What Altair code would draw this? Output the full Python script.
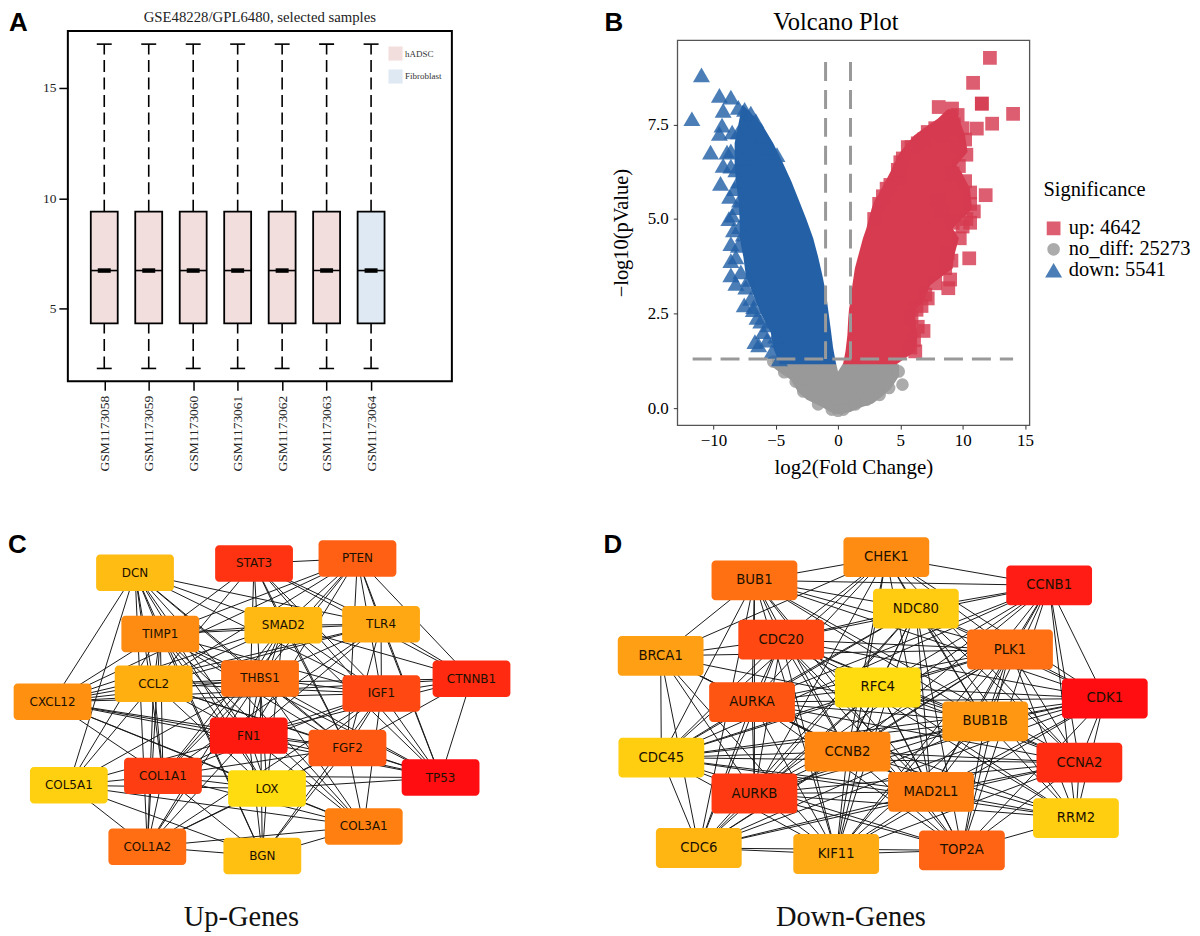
import altair as alt
import pandas as pd
from itertools import combinations

SERIF = "Liberation Serif"
# ---------- Panel A: boxplots
samples = ["GSM1173058", "GSM1173059", "GSM1173060", "GSM1173061", "GSM1173062", "GSM1173063", "GSM1173064"]
groups = ["hADSC"] * 6 + ["Fibroblast"]
box_min = [2.28] * 7
box_q1 = [4.32] * 7
box_med = [6.72] * 7
box_q3 = [9.39] * 7
box_max = [16.99] * 7

# ---------- Panel B: volcano
down_y = [1.16, 1.6, 2.0, 2.5, 3.0, 3.5, 4.0, 4.5, 5.0, 5.5, 6.0, 6.5, 7.0, 7.5, 8.0]
down_left = [-4.7, -5.2, -5.4, -6.2, -6.8, -7.4, -7.6, -7.9, -7.9, -8.0, -8.2, -8.3, -8.3, -8.0, -7.7]
down_right = [-0.15, -0.4, -0.55, -0.75, -0.95, -1.25, -1.6, -2.0, -2.55, -3.15, -3.75, -4.45, -5.2, -6.1, -7.6]
up_y = [1.16, 1.5, 1.93, 2.37, 2.64, 2.81, 3.25, 3.69, 4.0, 4.49, 4.75, 5.28, 5.45, 5.8, 6.24, 6.42, 6.77, 7.21, 7.39, 7.65, 7.9]
up_left = [0.4, 0.6, 0.75, 0.82, 0.89, 1.0, 1.15, 1.35, 1.6, 2.0, 2.27, 2.7, 2.88, 3.49, 4.2, 4.45, 5.0, 6.1, 6.86, 8.0, 8.8]
up_right = [4.7, 6.2, 6.4, 6.2, 6.3, 6.86, 7.4, 9.2, 9.3, 9.7, 9.2, 10.8, 10.7, 10.6, 9.9, 9.5, 10.4, 10.2, 10.0, 9.7, 9.5]
grey_x = [-5.3, -4.7, -3.8, -3.2, -2.5, -1.4, -0.6, -0.15, 0.0, 0.4, 1.0, 1.7, 2.8, 3.5, 4.2, 4.9]
grey_low = [1.1, 0.95, 0.75, 0.42, 0.22, 0.05, -0.1, -0.15, -0.16, -0.14, -0.1, 0.0, 0.12, 0.3, 0.5, 0.85]
grey_high = [1.3, 1.25, 1.2, 1.2, 1.2, 1.2, 1.2, 1.18, 0.97, 1.18, 1.2, 1.2, 1.2, 1.2, 1.2, 1.15]

down_pts_x = [-10.96, -9.52, -8.60, -9.22, -11.73, -9.31, -9.52, -10.23, -8.91, -9.22, -9.43, -8.76, -8.39, -8.60, -8.60, -7.53, -6.77, -6.0, -6.67, -6.37,
              -8.0, -7.5, -7.0, -8.5, -8.0, -6.6, -8.6, -8.2, -8.6, -8.0, -7.9, -8.1, -7.9, -8.0, -8.2, -7.8, -7.4, -7.0, -6.5, -5.6, -5.7, -5.3, -4.7, -6.0, -4.9,
              -6.1, -5.5, -7.7, -8.3, -8.7, -8.5, -8.6, -8.2, -7.6, -7.2, -6.8, -6.2, -5.0]
down_pts_y = [8.81, 8.27, 8.22, 7.87, 7.65, 7.48, 7.26, 6.77, 6.77, 6.42, 5.94, 5.01, 4.71, 4.35, 3.52, 2.73, 2.68, 2.02, 1.76, 1.67,
              7.95, 7.9, 7.8, 7.3, 7.3, 7.6, 6.8, 6.3, 6.4, 6.0, 5.5, 5.3, 4.8, 4.3, 4.0, 3.6, 3.2, 2.9, 2.4, 2.2, 1.8, 1.5, 1.3, 7.1, 6.7,
              7.2, 6.9, 6.6, 5.8, 5.6, 5.1, 3.9, 3.3, 4.6, 3.4, 2.6, 2.3, 1.9]
up_pts_x = [12.19, 10.84, 11.54, 11.54, 8.08, 14.05, 12.37, 11.14, 9.15, 11.85, 10.53, 9.77, 6.86, 8.85, 6.4, 10.3, 10.2, 10.0, 9.6, 10.2, 10.6, 10.9, 10.6, 10.0, 8.0,
            9.0, 8.6, 8.3, 9.0, 8.4, 7.2, 6.4, 5.6, 5.0, 4.9, 4.2, 3.6, 6.2, 6.1, 7.0, 6.7, 9.6, 9.3, 5.9,
            8.9, 8.4, 7.8, 6.9, 5.9, 5.2, 4.8, 3.9, 3.3, 2.9, 9.7, 9.2, 10.6, 10.3, 9.2, 8.8, 9.1, 7.8, 7.2, 6.3, 5.8]
up_pts_y = [9.26, 8.6, 8.05, 8.05, 7.96, 7.78, 7.52, 7.39, 7.92, 5.63, 3.96, 4.49, 2.04, 3.17, 2.15, 6.7, 7.1, 7.4, 6.9, 6.0, 5.7, 5.2, 4.9, 4.8, 5.5,
            3.4, 3.7, 5.2, 7.6, 7.3, 7.3, 7.0, 6.9, 6.5, 6.1, 5.9, 5.6, 1.5, 1.8, 3.0, 2.7, 7.75, 7.5, 2.4,
            7.4, 7.2, 7.4, 7.1, 6.9, 6.6, 6.3, 5.8, 5.4, 5.0, 6.4, 6.2, 5.4, 5.0, 4.9, 4.1, 3.9, 3.3, 2.9, 2.6, 1.6]
grey_pts_x = [5.17, 4.87, -4.32, -3.4, -2.79, 4.1, 3.34, 2.27, -5.2, -0.5, 0.43, 0.0, -1.6, 1.4]
grey_pts_y = [0.62, 0.97, 0.95, 0.7, 0.44, 0.53, 0.35, 0.22, 1.23, -0.04, -0.04, -0.07, 0.1, 0.1]
sig_labels = ["up: 4642", "no_diff: 25273", "down: 5541"]
cut_x = [-1, 1]
cut_top = 9.15
cut_y = 1.3
cut_span = [-11.67, 14.05]

# ---------- Panels C / D: networks (layout units)
up_genes = ["DCN", "STAT3", "PTEN", "TIMP1", "SMAD2", "TLR4", "THBS1", "CCL2", "CXCL12", "IGF1", "CTNNB1", "FN1", "FGF2", "TP53", "COL1A1", "LOX", "COL5A1", "COL3A1", "COL1A2", "BGN"]
up_lx = [406, 764, 1075, 482, 852, 1146, 782, 462, 158, 1147, 1418, 748, 1045, 1325, 490, 803, 207, 1094, 443, 789]
up_ly = [141, 113, 98, 325, 299, 296, 459, 475, 529, 504, 460, 631, 668, 757, 752, 790, 780, 904, 965, 993]
up_col = ["#FFBC12", "#FF3312", "#FF6014", "#FF8C12", "#FFB912", "#FFA814", "#FF7012", "#FFAF10", "#FF9010", "#FF4812", "#FF2A10", "#FF1A10", "#FF5812", "#FF0D10", "#FF3D12", "#FFDC10", "#FFD010", "#FF8010", "#FF6E12", "#FFC012"]
up_links = {
    "DCN": "TIMP1 SMAD2 TLR4 THBS1 CCL2 CXCL12 IGF1 FN1 FGF2 COL1A1 LOX COL5A1 COL3A1 COL1A2 BGN",
    "STAT3": "PTEN TIMP1 SMAD2 TLR4 THBS1 CCL2 IGF1 CTNNB1 FN1 FGF2 TP53",
    "PTEN": "TIMP1 SMAD2 TLR4 THBS1 CCL2 CXCL12 IGF1 CTNNB1 FN1 FGF2 TP53 COL1A1",
    "TIMP1": "SMAD2 TLR4 THBS1 CCL2 CXCL12 IGF1 FN1 FGF2 TP53 COL1A1 LOX COL5A1 COL3A1 COL1A2 BGN",
    "SMAD2": "TLR4 THBS1 CCL2 CXCL12 IGF1 CTNNB1 FN1 FGF2 TP53 COL1A1 LOX COL1A2",
    "TLR4": "THBS1 CCL2 CXCL12 IGF1 CTNNB1 FN1 FGF2 TP53 COL1A1",
    "THBS1": "CCL2 CXCL12 IGF1 FN1 FGF2 TP53 COL1A1 LOX COL5A1 COL3A1 COL1A2 BGN",
    "CCL2": "CXCL12 IGF1 CTNNB1 FN1 FGF2 TP53 COL1A1 LOX COL5A1 COL1A2",
    "CXCL12": "IGF1 CTNNB1 FN1 FGF2 TP53 COL1A1 LOX COL3A1",
    "IGF1": "CTNNB1 FN1 FGF2 TP53 COL1A1 LOX COL3A1 COL1A2 BGN",
    "CTNNB1": "FN1 FGF2 TP53",
    "FN1": "FGF2 TP53 COL1A1 LOX COL5A1 COL3A1 COL1A2 BGN",
    "FGF2": "TP53 COL1A1 LOX COL1A2 COL3A1 BGN",
    "TP53": "COL1A1 LOX",
    "COL1A1": "LOX COL5A1 COL3A1 COL1A2 BGN",
    "LOX": "COL5A1 COL3A1 COL1A2 BGN",
    "COL5A1": "COL3A1 COL1A2 BGN",
    "COL3A1": "COL1A2 BGN",
    "COL1A2": "BGN",
}
down_genes = ["CHEK1", "BUB1", "CCNB1", "NDC80", "CDC20", "PLK1", "BRCA1", "RFC4", "AURKA", "CDK1", "BUB1B", "CDC45", "CCNB2", "CCNA2", "AURKB", "MAD2L1", "RRM2", "CDC6", "KIF11", "TOP2A"]
down_lx = [838, 454, 1312, 924, 532, 1198, 181, 813, 447, 1474, 1126, 183, 725, 1400, 454, 968, 1390, 292, 692, 1058]
down_ly = [94, 164, 179, 249, 342, 372, 391, 486, 530, 519, 588, 697, 679, 712, 805, 800, 879, 969, 987, 976]
down_col = ["#FF8C12", "#FF7012", "#FF1C14", "#FFCC12", "#FF4812", "#FF7014", "#FFA014", "#FFDC10", "#FF5512", "#FF0D10", "#FF9712", "#FFCE10", "#FF8610", "#FF2C12", "#FF3A12", "#FF7C12", "#FFCE10", "#FFB612", "#FFAC14", "#FF6414"]
down_absent = ["CHEK1 CDC6", "CHEK1 RRM2", "CHEK1 TOP2A", "BRCA1 CDK1", "BRCA1 CCNA2", "BRCA1 RRM2", "BRCA1 TOP2A", "RFC4 BRCA1", "CDC6 RRM2",
               "BUB1 RRM2", "BRCA1 CCNB1", "RRM2 KIF11", "CDC6 CCNB1", "NDC80 BRCA1", "RFC4 CHEK1", "BUB1 RFC4"]


def note(text, x, y, font, size, weight="normal", align="left", color="black"):
    return alt.Chart(pd.DataFrame({"t": [text]})).mark_text(
        font=font, fontSize=size, fontWeight=weight, align=align, color=color, baseline="alphabetic").encode(
        text="t:N", x=alt.value(x), y=alt.value(y))


def box_panel():
    df = pd.DataFrame({"sample": samples, "group": groups, "lo": box_min, "q1": box_q1,
                       "med": box_med, "q3": box_q3, "hi": box_max})
    x = alt.X("sample:N", title=None,
              scale=alt.Scale(type="point", domain=samples, range=[36.5, 304], padding=0),
              axis=alt.Axis(labelAngle=270, labelFont=SERIF, labelFontSize=13.5, labelColor="#222",
                            tickSize=9, tickWidth=1.5, tickColor="black", domain=False, grid=False, labelPadding=5))
    y = alt.Y("q1:Q", title=None, scale=alt.Scale(domain=[1.7, 17.58], nice=False, zero=False),
              axis=alt.Axis(values=[5, 10, 15], labelFont=SERIF, labelFontSize=13.5, labelColor="#222",
                            tickSize=9, tickWidth=1.5, tickColor="black", domain=False, grid=False, labelPadding=3))
    base = alt.Chart(df)
    whisk_dash = [12, 5.5]
    w1 = base.mark_rule(color="black", strokeWidth=1.6, strokeDash=whisk_dash).encode(x=x, y=alt.Y("q3:Q"), y2="hi:Q")
    w2 = base.mark_rule(color="black", strokeWidth=1.6, strokeDash=whisk_dash).encode(x=x, y=alt.Y("lo:Q"), y2="q1:Q")
    c1 = base.mark_tick(orient="horizontal", size=15, thickness=1.6, color="black", opacity=1).encode(x=x, y="hi:Q")
    c2 = base.mark_tick(orient="horizontal", size=15, thickness=1.6, color="black", opacity=1).encode(x=x, y="lo:Q")
    bars = base.mark_bar(size=27, stroke="black", strokeWidth=1.8, opacity=1).encode(
        x=x, y=y, y2="q3:Q",
        fill=alt.Fill("group:N", scale=alt.Scale(domain=["hADSC", "Fibroblast"], range=["#F3DEDE", "#DFE9F3"]),
                      legend=alt.Legend(orient="none", legendX=321, legendY=15, title=None, symbolType="square",
                                        symbolSize=200, symbolStrokeWidth=0, symbolStrokeColor="white",
                                        labelFont=SERIF, labelFontSize=9, labelColor="#333",
                                        rowPadding=8, labelOffset=2)))
    m1 = base.mark_tick(orient="horizontal", size=27, thickness=1.6, color="black", opacity=1).encode(x=x, y="med:Q")
    m2 = base.mark_tick(orient="horizontal", size=13, thickness=4.5, color="black", opacity=1).encode(x=x, y="med:Q")
    letter = note("A", -59, 0, "Liberation Sans", 26, "bold")
    title = note("GSE48228/GPL6480, selected samples", 192.5, -9, SERIF, 14.8, align="center", color="#222")
    return alt.layer(w1, w2, c1, c2, bars, m1, m2, letter, title).properties(
        width=385, height=351, view=alt.ViewBackground(stroke="black", strokeWidth=2))


def volcano_head():
    letter = note("B", -73, 0, "Liberation Sans", 26, "bold")
    title = note("Volcano Plot", 159, -1, SERIF, 24.5, align="center")
    return alt.layer(letter, title).properties(width=353, height=8)


def volcano_panel():
    xs = alt.Scale(domain=[-12.9, 15.36], nice=False, zero=False)
    ys = alt.Scale(domain=[-0.45, 9.73], nice=False, zero=False)
    xax = alt.X("x:Q", scale=xs, title="log2(Fold Change)",
                axis=alt.Axis(values=[-10, -5, 0, 5, 10, 15], grid=False, domain=False, tickSize=4, tickColor="#333",
                              labelFont=SERIF, labelFontSize=17, labelColor="black", titleFont=SERIF, titleFontSize=21,
                              titleFontWeight="normal", titlePadding=9, labelPadding=3))
    yax = alt.Y("y:Q", scale=ys, title="\u2212log10(pValue)",
                axis=alt.Axis(values=[0, 2.5, 5, 7.5], format=".1f", grid=False, domain=False, tickSize=4, tickColor="#333",
                              labelFont=SERIF, labelFontSize=17, labelColor="black", titleFont=SERIF, titleFontSize=20.5,
                              titleFontWeight="normal", titlePadding=16, labelPadding=5))
    BLUE, RED, GREY = "#2360A6", "#D63B50", "#999999"
    grey_a = alt.Chart(pd.DataFrame({"x": grey_x, "y": grey_low, "y2": grey_high})).mark_area(color=GREY, orient="vertical").encode(x=xax, y=yax, y2="y2:Q")
    blue_a = alt.Chart(pd.DataFrame({"y": down_y, "x": down_left, "x2": down_right})).mark_area(color=BLUE, orient="horizontal").encode(x=xax, x2="x2:Q", y=yax)
    red_a = alt.Chart(pd.DataFrame({"y": up_y, "x": up_left, "x2": up_right})).mark_area(color=RED, orient="horizontal").encode(x=xax, x2="x2:Q", y=yax)
    pts = pd.concat([
        pd.DataFrame({"x": grey_pts_x, "y": grey_pts_y, "sig": sig_labels[1]}),
        pd.DataFrame({"x": down_pts_x, "y": down_pts_y, "sig": sig_labels[2]}),
        pd.DataFrame({"x": up_pts_x, "y": up_pts_y, "sig": sig_labels[0]}),
    ], ignore_index=True)
    leg = alt.Legend(orient="none", legendX=367, legendY=140, title="Significance", titleFont=SERIF, titleFontSize=20.5,
                     titleFontWeight="normal", titleColor="black", titlePadding=18, labelFont=SERIF, labelFontSize=20.5,
                     labelColor="black", rowPadding=0, labelOffset=5)
    p = alt.Chart(pts).mark_point(filled=True, opacity=0.82, strokeWidth=0).encode(
        x=xax, y=yax,
        color=alt.Color("sig:N", scale=alt.Scale(domain=sig_labels, range=[RED, GREY, BLUE]), legend=leg),
        shape=alt.Shape("sig:N", scale=alt.Scale(domain=sig_labels, range=["square", "circle", "triangle-up"]), legend=leg),
        size=alt.Size("sig:N", scale=alt.Scale(type="ordinal", domain=sig_labels, range=[190, 160, 290]), legend=leg),
    )
    dash = [19, 9]
    vline = alt.Chart(pd.DataFrame({"x": cut_x, "top": [cut_top] * 2, "bot": [cut_y] * 2})).mark_rule(color="#999999", strokeWidth=3, strokeDash=dash).encode(
        x=alt.X("x:Q", scale=xs), y=alt.Y("top:Q", scale=ys), y2="bot:Q")
    hline = alt.Chart(pd.DataFrame({"a": [cut_span[0]], "b": [cut_span[1]], "y": [cut_y]})).mark_rule(color="#999999", strokeWidth=3, strokeDash=dash).encode(
        x=alt.X("a:Q", scale=xs), x2="b:Q", y=alt.Y("y:Q", scale=ys))
    return alt.layer(grey_a, blue_a, red_a, p, vline, hline).properties(
        width=353, height=386, view=alt.ViewBackground(stroke="#555555", strokeWidth=1.3))


def network_panel(genes, lx, ly, cols, edges, letter_text, letter_x, title_text, title_x, xdom, width, bw, bh, fs):
    pos = {g: (a, b) for g, a, b in zip(genes, lx, ly)}
    e = pd.DataFrame([{"x": pos[a][0], "y": pos[a][1], "x2": pos[b][0], "y2": pos[b][1]} for a, b in edges])
    n = pd.DataFrame({"gene": genes, "x": lx, "y": ly})
    xs = alt.Scale(domain=xdom, nice=False, zero=False)
    ys = alt.Scale(domain=[0, 1233], nice=False, zero=False, reverse=True)
    X = alt.X("x:Q", scale=xs, axis=None)
    Y = alt.Y("y:Q", scale=ys, axis=None)
    lines = alt.Chart(e).mark_rule(color="#1a1a1a", strokeWidth=1).encode(x=X, y=Y, x2="x2:Q", y2="y2:Q")
    boxes = alt.Chart(n).mark_rect(width=bw, height=bh, cornerRadius=4).encode(
        x=X, y=Y, fill=alt.Fill("gene:N", scale=alt.Scale(domain=genes, range=cols), legend=None))
    labels = alt.Chart(n).mark_text(font="DejaVu Sans", fontSize=fs, color="#1c1000").encode(x=X, y=Y, text="gene:N")
    letter = note(letter_text, letter_x, 27, "Liberation Sans", 26, "bold")
    title = note(title_text, title_x, 401, SERIF, 28.5, align="center", color="#111")
    return alt.layer(lines, boxes, labels, letter, title).properties(width=width, height=411)


up_edges = [(a, b) for a, s in up_links.items() for b in s.split()]
absent = {frozenset(p.split()) for p in down_absent}
down_edges = [p for p in combinations(down_genes, 2) if frozenset(p) not in absent]

A = box_panel()
B = alt.vconcat(volcano_head(), volcano_panel(), spacing=0)
C = network_panel(up_genes, up_lx, up_ly, up_col, up_edges, "C", -60, "Up-Genes", 174, [204, 1560], 452, 78, 36.5, 12)
D = network_panel(down_genes, down_lx, down_ly, down_col, down_edges, "D", -63, "Down-Genes", 185, [197.5, 1597.2], 482, 86, 40, 13.3)

IND = dict(color="independent", fill="independent", shape="independent", size="independent")
top = alt.hconcat(A, B.resolve_scale(**IND), spacing=152).resolve_scale(**IND)
bottom = alt.hconcat(C, D, spacing=85).resolve_scale(**IND)
chart = alt.vconcat(top, bottom, spacing=47).resolve_scale(**IND).properties(
    padding={"left": 0, "top": 0, "right": 0, "bottom": 0}).configure_view(stroke=None)

chart.save("out.html", embed_options={"renderer": "svg", "actions": False})
